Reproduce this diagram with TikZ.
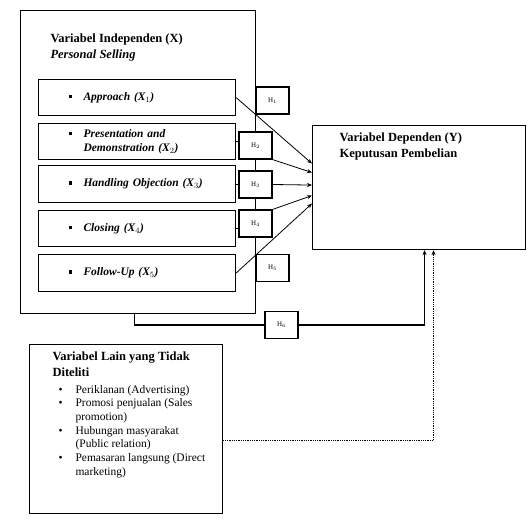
\documentclass[tikz,border=0pt]{standalone}
\usepackage{fontspec}
\setmainfont{Liberation Serif}
\usetikzlibrary{arrows.meta,calc}

\newcommand{\sqb}{\rule[0.2em]{0.3em}{0.3em}}
\newcommand{\itm}[1]{\begin{tabular}{@{\hspace{30pt}}p{15pt}@{}l@{}}\sqb & #1\end{tabular}}

\begin{document}
\begin{tikzpicture}[x=1pt, y=-1pt, line width=1.1pt,
    box/.style={draw, inner sep=0, anchor=north west},
    item/.style={box, minimum height=36pt, text width=197pt, align=left, font=\fontsize{11.5}{14}\selectfont\bfseries\itshape},
    hyp/.style={draw, fill=white, minimum width=33pt, minimum height=27pt, inner sep=0, font=\fontsize{7}{8}\selectfont},
    title/.style={anchor=north west, inner sep=0, align=left, font=\fontsize{12.5}{15.5}\selectfont\bfseries},
    arr/.style={line width=0.8pt, -{Stealth[length=5pt,width=4pt]}}]
        \useasboundingbox (0,0) rectangle (532,525);
        % independent variable
        \node[box, minimum width=235pt, minimum height=303pt] (indep) at (20,10) {};
        \node[title] (indepttl) at (50,33.5) {Variabel Independen (X)\\\textit{Personal Selling}};
        \node[item] (x1) at (38,79) {\itm{Approach (X$_1$)}};
        \node[item] (x2) at (38,123) {\itm{Presentation and\\ & Demonstration (X$_2$)}};
        \node[item, minimum height=37pt] (x3) at (38,165) {\itm{Handling Objection (X$_3$)}};
        \node[item] (x4) at (38,210) {\itm{Closing (X$_4$)}};
        \node[item, minimum height=37pt] (x5) at (38,254) {\itm{Follow-Up (X$_5$)}};
        % dependent variable
        \node[box, minimum width=213pt, minimum height=124pt] (dep) at (312,125) {};
        \node[title] (depttl) at (339,132.5) {Variabel Dependen (Y)\\Keputusan Pembelian};
        % other variables
        \node[box, minimum width=193pt, minimum height=169pt] (lain) at (29,344) {};
        \node[title] (lainttl) at (52,351.5) {Variabel Lain yang Tidak\\Diteliti};
        \node[anchor=north west, inner sep=0, font=\fontsize{11.5}{13.7}\selectfont] (lainlist) at (52,383) {%
            \begin{tabular}{@{\hspace{6pt}}p{17pt}@{}l@{}}
            \textbullet & Periklanan (Advertising)\\
            \textbullet & Promosi penjualan (Sales\\
                        & promotion)\\
            \textbullet & Hubungan masyarakat\\
                        & (Public relation)\\
            \textbullet & Pemasaran langsung (Direct\\
                        & marketing)
            \end{tabular}};
        % hypotheses
        \node[hyp] (h1) at (272.5,100.5) {H$_1$};
        \node[hyp] (h2) at (255.5,145.5) {H$_2$};
        \node[hyp] (h3) at (255.5,184.5) {H$_3$};
        \node[hyp] (h4) at (255.5,223.5) {H$_4$};
        \node[hyp] (h5) at (272.5,268) {H$_5$};
        \node[hyp] (h6) at (281.5,325) {H$_6$};
        \path[draw](x2.east)to(x2.east -| h2.west);
        \path[draw](x3.east)to(x3.east -| h3.west);
        \path[draw](x4.east)to(x4.east -| h4.west);
        % partial effects
        \path[draw, arr](x1.east)to([yshift=24pt]dep.west);
        \path[draw, arr](h2.south east)to([yshift=15pt]dep.west);
        \path[draw, arr](h3.east)to([yshift=2.5pt]dep.west);
        \path[draw, arr](h4.north east)to([yshift=-8pt]dep.west);
        \path[draw, arr](x5.east)to([yshift=-16pt]dep.west);
        % simultaneous effect
        \path[draw]([xshift=-3.5pt]indep.south)|-(h6.west);
        \path[draw, arr, line width=1.1pt](h6.east)-|([xshift=5.5pt]dep.south);
        % not examined
        \path[draw, arr, densely dotted](lain.east |- 0,440)-|([xshift=14.5pt]dep.south);
    \end{tikzpicture}
\end{document}
